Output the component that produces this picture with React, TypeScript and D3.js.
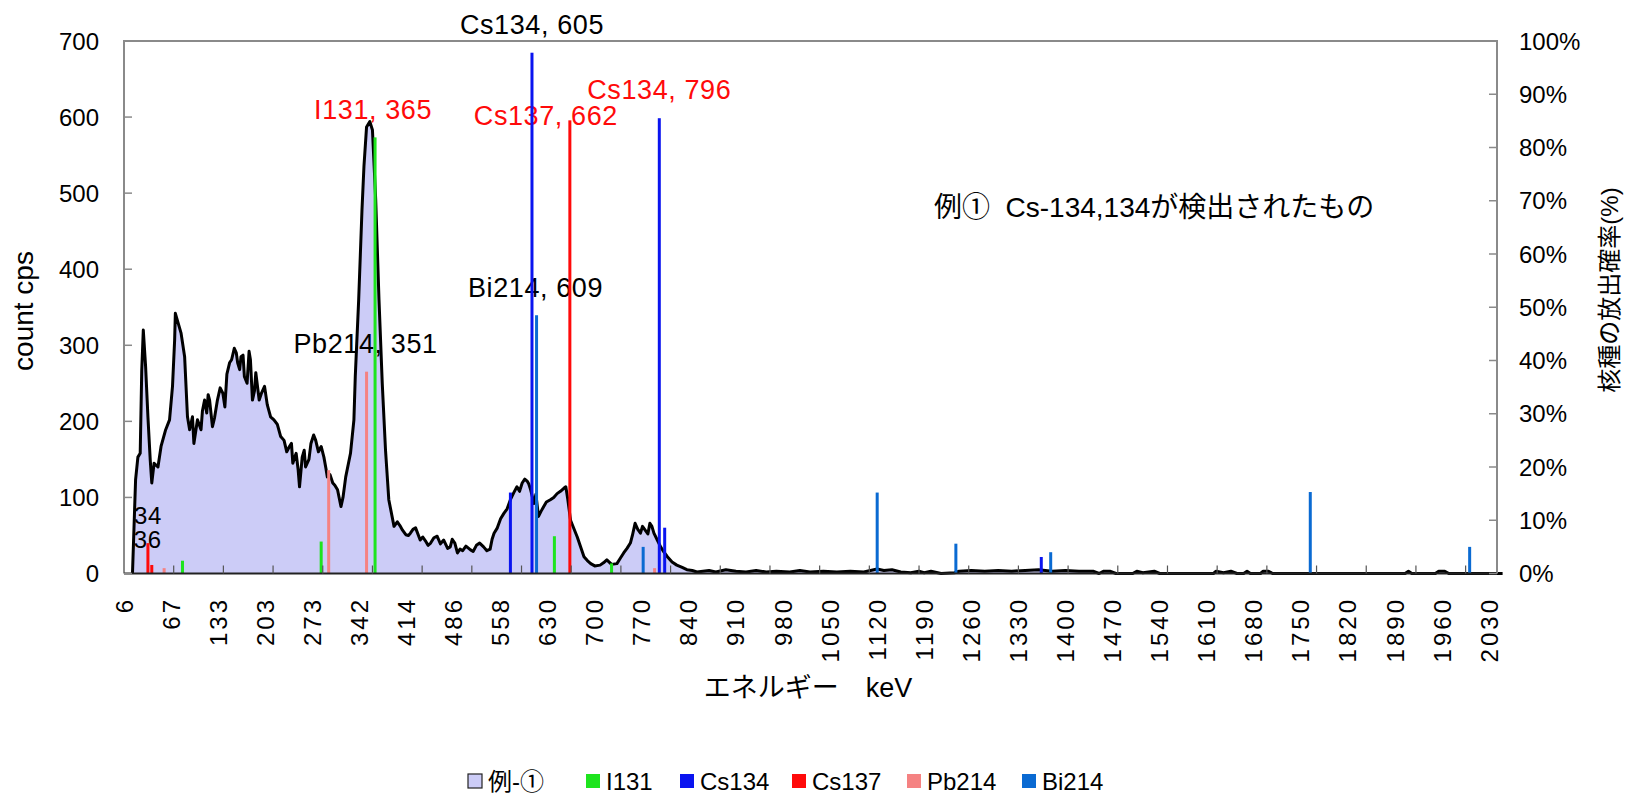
import React from "react";
import * as d3 from "d3";

// x axis: category labels (keV) printed every 18 channels
const energyLabels = [6, 67, 133, 203, 273, 342, 414, 486, 558, 630, 700, 770, 840, 910, 980, 1050, 1120, 1190, 1260, 1330, 1400, 1470, 1540, 1610, 1680, 1750, 1820, 1890, 1960, 2030];
const countTicks = [0, 100, 200, 300, 400, 500, 600, 700];
const percentTicks = [0, 10, 20, 30, 40, 50, 60, 70, 80, 90, 100];

// measured spectrum [keV, cps]
const spectrumPoints: [number, number][] = [
  [17, 0], [21, 123], [24, 153], [27, 158], [29, 267], [31, 320], [34, 272], [37, 206], [40, 149], [42, 119],
  [45, 145], [50, 140], [54, 167], [60, 189], [65, 202], [69, 246], [72, 307], [73, 342], [81, 316], [86, 285],
  [90, 206], [93, 189], [97, 206], [99, 171], [104, 202], [109, 189], [111, 214], [114, 228], [117, 211], [119, 235],
  [121, 228], [125, 193], [128, 205], [132, 228], [136, 244], [140, 237], [143, 219], [146, 262], [150, 277], [153, 281],
  [157, 296], [160, 290], [162, 277], [165, 268], [167, 285], [170, 287], [172, 259], [176, 250], [179, 292], [181, 281],
  [184, 228], [187, 240], [189, 264], [194, 228], [197, 236], [202, 246], [206, 222], [211, 206], [216, 202], [221, 196],
  [226, 180], [231, 175], [235, 160], [239, 167], [242, 171], [244, 145], [249, 158], [252, 136], [254, 114], [258, 153],
  [261, 162], [263, 140], [268, 150], [271, 171], [275, 182], [278, 175], [282, 160], [286, 167], [290, 153], [293, 138],
  [295, 127], [299, 130], [303, 119], [306, 116], [310, 110], [315, 88], [318, 100], [322, 127], [329, 158], [334, 202],
  [336, 259], [341, 360], [346, 478], [349, 535], [353, 587], [358, 594], [362, 583], [367, 491], [372, 360], [377, 250],
  [382, 162], [387, 97], [395, 62], [400, 68], [404, 63], [408, 57], [413, 51], [417, 50], [420, 53], [424, 58],
  [428, 60], [435, 44], [439, 48], [443, 43], [447, 37], [451, 40], [456, 47], [461, 49], [466, 39], [471, 44],
  [477, 33], [481, 35], [484, 45], [488, 40], [492, 27], [496, 32], [500, 30], [505, 36], [512, 31], [516, 29],
  [521, 37], [526, 40], [532, 35], [537, 30], [542, 32], [545, 45], [548, 53], [553, 60], [558, 72], [563, 79],
  [568, 85], [573, 97], [578, 106], [583, 114], [587, 108], [591, 119], [595, 124], [599, 121], [601, 118], [604, 110],
  [609, 92], [612, 104], [616, 75], [620, 82], [624, 88], [628, 94], [634, 97], [639, 100], [644, 105], [649, 108],
  [654, 112], [657, 114], [660, 97], [664, 70], [674, 48], [684, 22], [689, 17], [694, 13], [700, 10], [708, 11],
  [713, 14], [718, 18], [725, 12], [733, 13], [738, 20], [743, 27], [748, 33], [753, 40], [756, 50], [760, 66],
  [764, 58], [768, 53], [771, 62], [775, 57], [779, 52], [782, 66], [785, 62], [788, 53], [793, 44], [798, 35],
  [803, 28], [808, 22], [815, 15], [822, 11], [830, 8], [837, 5], [845, 4], [852, 2], [870, 4], [880, 2],
  [895, 5], [910, 3], [925, 2], [940, 4], [955, 2], [970, 3], [990, 2], [1005, 4], [1020, 2], [1040, 3],
  [1060, 2], [1080, 3], [1100, 2], [1120, 6], [1130, 4], [1142, 5], [1155, 2], [1170, 1], [1182, 3], [1190, 1],
  [1200, 3], [1215, 0], [1235, 1], [1242, 3], [1260, 4], [1280, 3], [1300, 4], [1320, 3], [1340, 4], [1360, 5],
  [1380, 3], [1400, 4], [1420, 3], [1441, 3], [1450, 0], [1457, 3], [1466, 3], [1475, 0], [1500, 0], [1506, 3],
  [1515, 1], [1532, 3], [1540, 0], [1620, 0], [1624, 3], [1635, 1], [1646, 3], [1655, 0], [1665, 0], [1670, 3],
  [1675, 0], [1690, 0], [1694, 3], [1702, 3], [1708, 0], [1905, 0], [1910, 3], [1915, 0], [1950, 0], [1955, 3],
  [1964, 3], [1970, 0], [2050, 0],
];
const spectrum = spectrumPoints.slice().sort((a, b) => a[0] - b[0]);

// emission lines [keV, %]
const i131Lines: [number, number][] = [[83, 2.4], [286, 6.0], [366, 81.9], [640, 7.0], [725, 1.9]];
const cs134Lines: [number, number][] = [[573, 15.2], [606, 97.8], [796, 85.5], [804, 8.6], [1364, 3.1]];
const cs137Lines: [number, number][] = [[37, 5.7], [42, 1.6], [663, 85.1]];
const pb214Lines: [number, number][] = [[58, 1.0], [297, 19.4], [353, 37.9], [789, 1.0]];
const bi214Lines: [number, number][] = [[613, 48.5], [772, 5.0], [1120, 15.2], [1237, 5.6], [1378, 4.0], [1764, 15.3], [2001, 5.0]];

const nuclides = [
  { name: "I131", color: "#1ee41e", lines: i131Lines },
  { name: "Cs134", color: "#0a14f0", lines: cs134Lines },
  { name: "Cs137", color: "#ff0a0a", lines: cs137Lines },
  { name: "Pb214", color: "#f58282", lines: pb214Lines },
  { name: "Bi214", color: "#0a6ad2", lines: bi214Lines },
];

const peakLabels = [
  { text: "Cs134, 605", energy: 606, pct: 97.8, color: "#000", dx: 0, dy: -28, size: 27 },
  { text: "I131, 365", energy: 366, pct: 81.9, color: "#ff0a0a", dx: -2, dy: -27, size: 27 },
  { text: "Cs137, 662", energy: 663, pct: 85.1, color: "#ff0a0a", dx: -24, dy: -4, size: 27 },
  { text: "Cs134, 796", energy: 796, pct: 85.5, color: "#ff0a0a", dx: 0, dy: -28, size: 27 },
  { text: "Bi214, 609", energy: 613, pct: 48.5, color: "#000", dx: -1, dy: -27, size: 27 },
  { text: "Pb214, 351", energy: 353, pct: 37.9, color: "#000", dx: -1, dy: -28, size: 27 },
  { text: "34", energy: 37, pct: 5.7, color: "#000", dx: 0, dy: -28, size: 24 },
  { text: "36", energy: 42, pct: 1.6, color: "#000", dx: -4, dy: -25, size: 24 },
];

const legendItems = [
  { name: "例-①", color: "#ccccf7", x: 468 },
  { name: "I131", color: "#1ee41e", x: 586 },
  { name: "Cs134", color: "#0a14f0", x: 680 },
  { name: "Cs137", color: "#ff0a0a", x: 792 },
  { name: "Pb214", color: "#f58282", x: 907 },
  { name: "Bi214", color: "#0a6ad2", x: 1022 },
];

const W = 1627;
const H = 798;
const plot = { left: 124, right: 1497, top: 41, bottom: 573.5 };
const CH_PER_LABEL = 18;
const CH_PER_TICK = 19;
const CHANNELS = 525;
const FONT = "'Liberation Sans', Arial, 'Noto Sans CJK JP', sans-serif";

export default function App() {
  const xCh = d3.scaleLinear().domain([0, CHANNELS]).range([plot.left, plot.right]);
  const eToCh = d3.scaleLinear().domain(energyLabels).range(energyLabels.map((_, i) => i * CH_PER_LABEL));
  const x = (e: number) => xCh(eToCh(e));
  const yL = d3.scaleLinear().domain([0, 700]).range([plot.bottom, plot.top]);
  const yR = d3.scaleLinear().domain([0, 100]).range([plot.bottom, plot.top]);

  const area = d3.area<[number, number]>().x((d) => x(d[0])).y0(yL(0)).y1((d) => yL(d[1]));
  const line = d3.line<[number, number]>().x((d) => x(d[0])).y((d) => yL(d[1]));
  const tickChannels = d3.range(CH_PER_TICK, CHANNELS, CH_PER_TICK);

  return (
    <svg width={W} height={H} style={{ position: "absolute", left: 0, top: 0, background: "#fff" }} fontFamily={FONT}>
      <rect width={W} height={H} fill="#fff" />
      <path d={area(spectrum) || ""} fill="#ccccf7" />

      {peakLabels.map((p) => (
        <text key={p.text} x={x(p.energy) + p.dx} y={yR(p.pct) + p.dy} fill={p.color} fontSize={p.size}
          letterSpacing={0.6} textAnchor="middle" dominantBaseline="central">{p.text}</text>
      ))}

      <path d={line(spectrum) || ""} fill="none" stroke="#000" strokeWidth={3} strokeLinejoin="round" />

      {nuclides.map((n) => n.lines.map(([e, p]) => (
        <rect key={n.name + e} x={x(e) - 1.5} width={3} y={yR(p)} height={yR(0) - yR(p)} fill={n.color} />
      )))}

      {/* frame */}
      <path d={`M${plot.left},${plot.bottom}V${plot.top}H${plot.right}V${plot.bottom}`} fill="none" stroke="#8a8a8a" strokeWidth={2} />
      <line x1={plot.left} x2={plot.right} y1={plot.bottom} y2={plot.bottom} stroke="#222" strokeWidth={2} />

      {/* left axis */}
      {countTicks.map((t) => (
        <g key={"l" + t}>
          <line x1={plot.left} x2={plot.left + 8} y1={yL(t)} y2={yL(t)} stroke="#8a8a8a" strokeWidth={1.5} />
          <text x={99} y={yL(t)} textAnchor="end" dominantBaseline="central" fontSize={24}>{t}</text>
        </g>
      ))}
      {/* right axis */}
      {percentTicks.map((t) => (
        <g key={"r" + t}>
          <line x1={plot.right - 8} x2={plot.right} y1={yR(t)} y2={yR(t)} stroke="#8a8a8a" strokeWidth={1.5} />
          <text x={1519} y={yR(t)} dominantBaseline="central" fontSize={24}>{t}%</text>
        </g>
      ))}
      {/* bottom ticks and labels */}
      {tickChannels.map((c) => (
        <line key={"b" + c} x1={xCh(c)} x2={xCh(c)} y1={plot.bottom} y2={plot.bottom - 8} stroke="#555" strokeWidth={1.2} />
      ))}
      {energyLabels.map((e, i) => (
        <text key={"x" + e} transform={`translate(${xCh(i * CH_PER_LABEL)},597) rotate(-90)`} textAnchor="end"
          dominantBaseline="central" fontSize={24} letterSpacing={3}>{e}</text>
      ))}

      {/* titles */}
      <text transform="translate(23,311) rotate(-90)" textAnchor="middle" dominantBaseline="central" fontSize={28}>count cps</text>
      <text transform="translate(1609,290) rotate(-90)" textAnchor="middle" dominantBaseline="central" fontSize={24}>核種の放出確率(%)</text>
      <text x={808} y={688} textAnchor="middle" dominantBaseline="central" fontSize={27}>エネルギー　keV</text>
      <text x={934} y={207} dominantBaseline="central" fontSize={28} style={{ whiteSpace: "pre" }}>例①  Cs-134,134が検出されたもの</text>

      {/* legend */}
      {legendItems.map((l, i) => (
        <g key={l.name}>
          <rect x={l.x} y={774} width={14} height={14} fill={l.color} stroke={i === 0 ? "#222" : "none"} strokeWidth={1.2} />
          <text x={l.x + 20} y={781} dominantBaseline="central" fontSize={24}>{l.name}</text>
        </g>
      ))}
    </svg>
  );
}
